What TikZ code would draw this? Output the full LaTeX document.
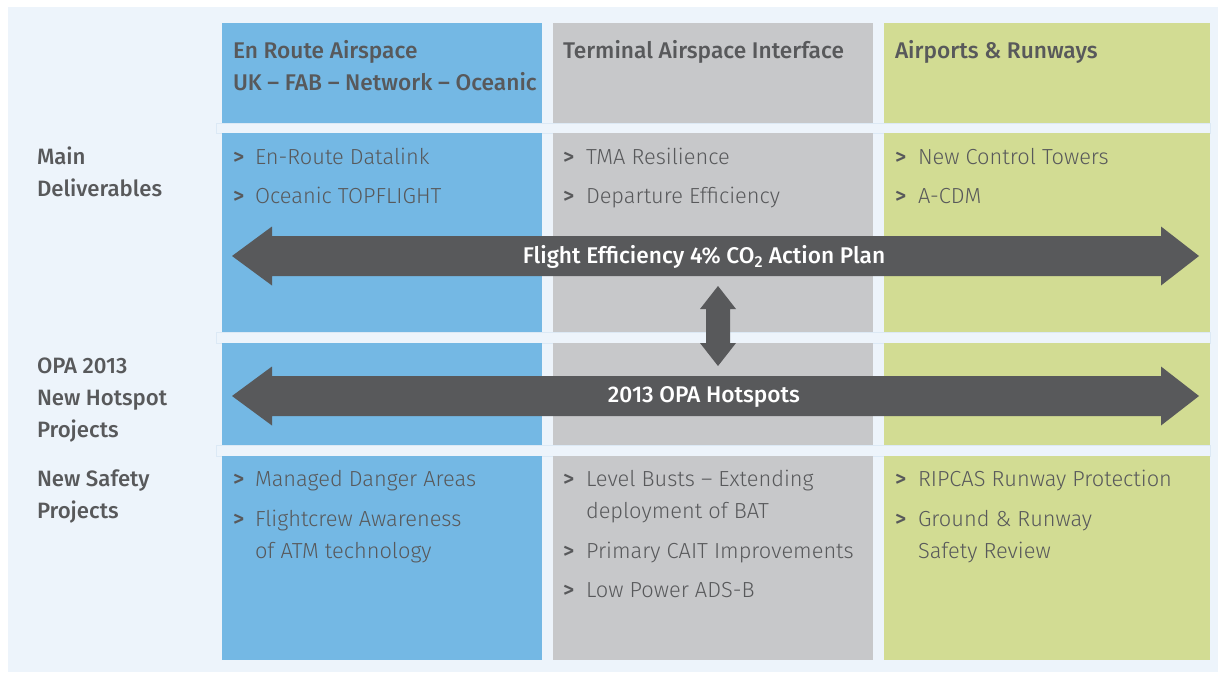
\documentclass[tikz,border=0pt]{standalone}
\usepackage{fontspec}
\setmainfont{Fira Sans}[UprightFont=* Light, BoldFont=* Medium]
\definecolor{pagebg}{HTML}{EDF4FB}
\definecolor{bandline}{HTML}{DCE9F5}
\definecolor{colblue}{HTML}{74B8E4}
\definecolor{colgray}{HTML}{C7C8CA}
\definecolor{colgreen}{HTML}{D2DC93}
\definecolor{ink}{HTML}{58595B}
\begin{document}
\begin{tikzpicture}[x=1pt,y=-1pt,
  every node/.style={inner sep=0pt,outer sep=0pt,anchor=base west,text=ink},
  head/.style={font=\fontsize{22.7}{32}\selectfont\bfseries,align=left},
  rowlabel/.style={font=\fontsize{22.2}{32}\selectfont\bfseries,align=left},
  item/.style={font=\fontsize{21.8}{32}\selectfont,align=left},
  bullet/.style={font=\fontsize{21.8}{32}\selectfont\bfseries},
  bigarrow/.style={fill=ink,draw=none},
  arrowlabel/.style={anchor=center,text=white,font=\fontsize{22.7}{25}\selectfont\bfseries}]
\useasboundingbox (0,0) rectangle (1218,672);
\fill[white] (0,0) rectangle (1218,672);
\fill[pagebg] (8,7) rectangle (1218,672);

% faint outlines of the separating bands
\foreach \ya/\yb in {123/133,332/343,445/456}{
  \draw[bandline,line width=0.6pt] (216,\ya) rectangle (1210,\yb);
}
% column cells: header, deliverables, hotspots, safety
\foreach \xa/\xb/\c in {222/542/colblue,553/873/colgray,884/1210/colgreen}{
  \fill[\c] (\xa,23) rectangle (\xb,123);
  \fill[\c] (\xa,133) rectangle (\xb,332);
  \fill[\c] (\xa,343) rectangle (\xb,445);
  \fill[\c] (\xa,456) rectangle (\xb,660);
}

% column headings
\node[head] (h1) at (233,58) {En Route Airspace};
\node[head] (h1b) at (233,90) {UK -- FAB -- Network -- Oceanic};
\node[head] (h2) at (563,58) {Terminal Airspace Interface};
\node[head] (h3) at (895,58) {Airports \& Runways};

% row labels
\node[rowlabel] (r1a) at (37,164) {Main};
\node[rowlabel] (r1b) at (37,196) {Deliverables};
\node[rowlabel] (r2a) at (37,373) {OPA 2013};
\node[rowlabel] (r2b) at (37,405) {New Hotspot};
\node[rowlabel] (r2c) at (37,437) {Projects};
\node[rowlabel] (r3a) at (37,486) {New Safety};
\node[rowlabel] (r3b) at (37,518) {Projects};

% bullets
\foreach \x/\y [count=\i] in {233/164,233/203,563/164,563/203,895/164,895/203,
                             233/486,233/526,563/486,563/558,563/597,895/486,895/526}{
  \node[bullet] (b\i) at (\x,\y) {>};
}

% deliverables
\node[item] (d1) at (255,164) {En-Route Datalink};
\node[item] (d2) at (255,203) {Oceanic TOPFLIGHT};
\node[item] (d3) at (586,164) {TMA Resilience};
\node[item] (d4) at (586,203) {Departure Efficiency};
\node[item] (d5) at (918,164) {New Control Towers};
\node[item] (d6) at (918,203) {A-CDM};

% safety projects
\node[item] (s1) at (255,486) {Managed Danger Areas};
\node[item] (s2) at (255,526) {Flightcrew Awareness};
\node[item] (s2b) at (255,558) {of ATM technology};
\node[item] (s3) at (586,486) {Level Busts -- Extending};
\node[item] (s3b) at (586,518) {deployment of BAT};
\node[item] (s4) at (586,558) {Primary CAIT Improvements};
\node[item] (s5) at (586,597) {Low Power ADS-B};
\node[item] (s6) at (918,486) {RIPCAS Runway Protection};
\node[item] (s7) at (918,526) {Ground \& Runway};
\node[item] (s7b) at (918,558) {Safety Review};

% double-headed band arrows
\foreach \yc in {256,396}{
  \fill[bigarrow] (232,\yc) -- (272,\yc-29.5) -- (272,\yc-20) -- (1161,\yc-20)
    -- (1161,\yc-29.5) -- (1199,\yc) -- (1161,\yc+29.5) -- (1161,\yc+20)
    -- (272,\yc+20) -- (272,\yc+29.5) -- cycle;
}
% vertical link between the two bands
\fill[bigarrow] (718,286) -- (736,309) -- (730,309) -- (730,343) -- (736,343)
  -- (718,366) -- (700,343) -- (706,343) -- (706,309) -- (700,309) -- cycle;

\node[arrowlabel] (a1) at (704,257) {Flight Efficiency 4\% CO\textsubscript{2} Action Plan};
\node[arrowlabel] (a2) at (704,397) {2013 OPA Hotspots};
\end{tikzpicture}
\end{document}
